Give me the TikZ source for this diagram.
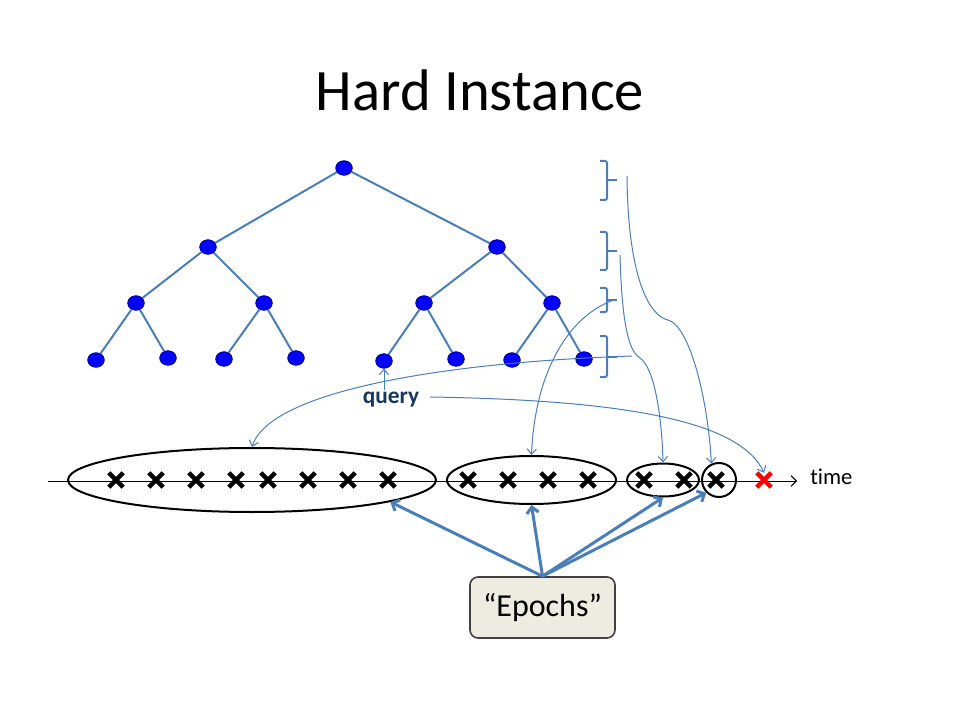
\documentclass[tikz,border=0pt]{standalone}
\usepackage{fontspec}
\setmainfont{Carlito}[Ligatures=NoCommon]
\usetikzlibrary{arrows.meta,shapes.geometric,shapes.misc}
\definecolor{lineblue}{RGB}{74,126,187}
\definecolor{nodeblue}{RGB}{0,0,255}
\definecolor{nodeborder}{RGB}{0,0,110}
\definecolor{querynavy}{RGB}{23,55,94}
\definecolor{boxfill}{RGB}{238,236,225}
\definecolor{boxborder}{RGB}{64,64,64}
\begin{document}
\begin{tikzpicture}[x=0.75pt,y=-0.75pt,
 tnode/.style={ellipse,draw=nodeborder,fill=nodeblue,minimum width=12.5pt,minimum height=11pt,inner sep=0pt,line width=0.5pt},
 tedge/.style={draw=lineblue,line width=1.5pt},
 xmark/.style={cross out,draw=black,minimum size=7.5pt,inner sep=0pt,line width=3.3pt},
 epell/.style={ellipse,draw=black,line width=1.5pt,inner sep=0pt},
 thinarrow/.style={draw=lineblue,line width=0.75pt,-{Straight Barb[length=4pt,width=7pt]}},
 epocharrow/.style={draw=lineblue,line width=2.25pt,-{Straight Barb[length=4.5pt,width=9pt]}},
 brack/.style={draw=lineblue,line width=1.5pt,rounded corners=1.5pt}
]
\useasboundingbox (0,0) rectangle (960,720);

% title
\node[font=\fontsize{44}{52}\selectfont, anchor=base, inner sep=0pt] (title) at (480,111) {Hard Instance};

% tree nodes
\node[tnode] (r) at (344,168) {};
\node[tnode] (a1) at (208,247) {};
\node[tnode] (a2) at (497,247) {};
\node[tnode] (b1) at (136,303) {};
\node[tnode] (b2) at (264,303) {};
\node[tnode] (b3) at (424,303) {};
\node[tnode] (b4) at (552,303) {};
\node[tnode] (l1) at (96,360) {};
\node[tnode] (l2) at (168,358) {};
\node[tnode] (l3) at (224,359) {};
\node[tnode] (l4) at (296,358) {};
\node[tnode] (l5) at (384,361) {};
\node[tnode] (l6) at (456,359) {};
\node[tnode] (l7) at (512,360) {};
\node[tnode] (l8) at (584,359) {};
\draw[tedge] (r) -- (a1); \draw[tedge] (r) -- (a2);
\draw[tedge] (a1) -- (b1); \draw[tedge] (a1) -- (b2);
\draw[tedge] (a2) -- (b3); \draw[tedge] (a2) -- (b4);
\draw[tedge] (b1) -- (l1); \draw[tedge] (b1) -- (l2);
\draw[tedge] (b2) -- (l3); \draw[tedge] (b2) -- (l4);
\draw[tedge] (b3) -- (l5); \draw[tedge] (b3) -- (l6);
\draw[tedge] (b4) -- (l7); \draw[tedge] (b4) -- (l8);

% brackets
\foreach \t/\m/\b in {161/180/200, 232/251/270, 288/300/312, 336/357/377} {
  \draw[brack] (600,\t) -- (607,\t) -- (607,\b) -- (600,\b);
  \draw[brack] (607,\m) -- (617,\m);
}

% timeline
\coordinate (t0) at (48,481);
\coordinate (t1) at (797,481);
\draw[line width=0.75pt,-{Straight Barb[length=4pt,width=8pt]}] (t0) -- (t1);
\node[font=\fontsize{17}{20}\selectfont, anchor=base west, inner sep=0pt] (time) at (810,484) {time};

% epoch ellipses
\node[epell, minimum width=276pt, minimum height=48pt] (e1) at (252,480) {};
\node[epell, minimum width=126.75pt, minimum height=36pt] (e2) at (531.5,480) {};
\node[epell, minimum width=54pt, minimum height=24.75pt] (e3) at (663,480) {};
\node[epell, circle, minimum size=25.5pt] (e4) at (719,480) {};

% crosses
\foreach \xx [count=\i] in {116,156,196,236,268,308,348,388,468,508,548,588,644,684,716}
  \node[xmark] (x\i) at (\xx,480) {};
\node[xmark, draw=red] (xr) at (764,480) {};

% query
\node[font=\bfseries\fontsize{17.5}{20}\selectfont, text=querynavy, anchor=base, inner sep=1pt] (q) at (391,403) {query};
\draw[thinarrow] (q.north -| l5) -- (l5.south);

% curves from brackets
\coordinate (s1) at (627,176);
\coordinate (s2) at (620,255);
\coordinate (s3) at (614,300);
\coordinate (s4) at (632,356);
\coordinate (s5) at (430,397);
\draw[thinarrow] (s1) .. controls (628,280) and (650,316) .. (668,320) .. controls (690,326) and (708,400) .. (e4.115);
\draw[thinarrow] (s2) .. controls (622,330) and (630,352) .. (640,358) .. controls (655,368) and (662,420) .. (e3.north);
\draw[thinarrow] (s3) .. controls (570,315) and (535,370) .. (e2.north);
\draw[thinarrow] (s4) .. controls (450,362) and (270,390) .. (e1.north);
\draw[thinarrow] (s5) .. controls (620,400) and (740,420) .. (xr.north);

% epochs box
\node[rounded corners=6pt, fill=boxfill, draw=boxborder, line width=1.2pt, minimum width=108.75pt, minimum height=45.75pt, font=\fontsize{24}{28}\selectfont] (ep) at (542.5,607.5) {“Epochs”};
\draw[epocharrow] (ep.north) -- (e1.-9);
\draw[epocharrow] (ep.north) -- (e2.south);
\draw[epocharrow] (ep.north) -- (e3.south);
\draw[epocharrow] (ep.north) -- (e4.-135);
\end{tikzpicture}
\end{document}
